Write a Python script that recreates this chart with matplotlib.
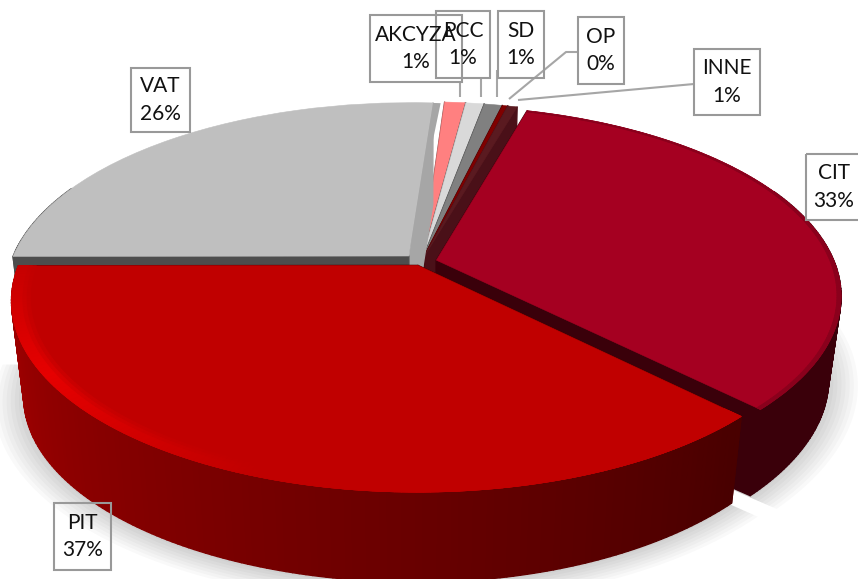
import numpy as np
import matplotlib
matplotlib.use('Agg')
import matplotlib.pyplot as plt
from matplotlib.collections import PolyCollection
from matplotlib.colors import to_rgb
from matplotlib.patches import Rectangle, Wedge
from matplotlib.transforms import Transform

names = ['CIT', 'PIT', 'VAT', 'AKCYZA', 'PCC', 'SD', 'OP', 'INNE']
values = [33.12, 37.4, 26.1, 0.98, 0.85, 0.85, 0.25, 0.45]
percent_labels = ['33%', '37%', '26%', '1%', '1%', '1%', '0%', '1%']
explode = [0.04, 0.02, 0.045, 0.04, 0.04, 0.04, 0.04, 0.04]
top_colors = ['#A50021', '#C00000', '#BFBFBF', '#FF8080', '#D9D9D9', '#808080', '#7F0000', '#5A1A20']
wall_colors = ['#3A000A', '#480000', '#4D4D4D', '#804040', '#6D6D6D', '#404040', '#400000', '#4A1018']
draw_order = [3, 4, 5, 6, 7, 2, 0, 1]

# label boxes in picture pixels: left, top, right, bottom
label_boxes = [(806, 154, 870, 220), (54, 503, 111, 570), (131, 68, 190, 132),
               (370, 15, 462, 82), (436, 11, 490, 78), (498, 11, 544, 78),
               (578, 17, 624, 84), (694, 49, 760, 115)]
leader_lines = [([460, 460], [82, 97]), ([481, 481], [78, 97]), ([497, 497], [70, 97]),
                ([578, 566, 509], [52, 52, 99]), ([694, 518], [84, 100])]

CX, CY = 421, 262
RX, RY = 398, 183.6
PERSP = 0.184
DEPTH = 97


def project(x, y, z=0.0):
    s = (1 - 0.03 * z) / (1 + PERSP * y)
    drop = DEPTH * z * (1 - 0.12 * np.maximum(x, 0) ** 2)
    return CX + x * RX * s, CY + drop - y * RY * s


class Persp(Transform):
    input_dims = 2
    output_dims = 2
    is_separable = False
    has_inverse = False

    def __init__(self, z=0.0):
        super().__init__()
        self.z = z

    def transform_non_affine(self, values):
        px, py = project(values[:, 0], values[:, 1], self.z)
        return np.column_stack([px, py])


def mix(a, b, w):
    a, b = np.array(to_rgb(a)), np.array(to_rgb(b))
    return tuple(a + (b - a) * w)


plt.rcParams['font.family'] = ['Lato', 'DejaVu Sans']
fig = plt.figure(figsize=(8.58, 5.79), dpi=100)
ax = fig.add_axes([0, 0, 1, 1])

wedges, _ = ax.pie(values, explode=explode, colors=top_colors, startangle=74,
                   counterclock=False, radius=1)
ax.set_aspect('auto')
ax.set_xlim(0, 858)
ax.set_ylim(579, 0)
ax.axis('off')

top = Persp(0.0) + ax.transData
bottom = Persp(1.0) + ax.transData

# soft shadow under the bottom plane
for i in [0, 1]:
    w = wedges[i]
    for k in np.linspace(1.07, 1.0, 8):
        sh = Wedge((w.center[0], w.center[1] - 0.01), k, w.theta1, w.theta2, color='black',
                   alpha=0.025, lw=0, transform=bottom, zorder=0)
        ax.add_patch(sh)

for rank, i in enumerate(draw_order):
    w = wedges[i]
    zo = 2 + rank * 2
    cx, cy = w.center
    polys, cols = [], []

    # cut faces, the right face of VAT (theta1) catches the light
    for ang in [w.theta1, w.theta2]:
        ox = cx + np.cos(np.radians(ang))
        oy = cy + np.sin(np.radians(ang))
        polys.append([project(cx, cy, 0), project(ox, oy, 0), project(ox, oy, 1), project(cx, cy, 1)])
        if names[i] == 'VAT' and ang == w.theta1:
            cols.append('#A6A6A6')
        else:
            cols.append(wall_colors[i])

    # outer wall, split so the shade can change along the arc, back part stays hidden
    th = np.linspace(w.theta1, w.theta2, 160)
    for t0, t1 in zip(th[:-1], th[1:]):
        if np.sin(np.radians(t0)) > 0.4:
            continue
        x0, y0 = cx + np.cos(np.radians(t0)), cy + np.sin(np.radians(t0))
        x1, y1 = cx + np.cos(np.radians(t1)), cy + np.sin(np.radians(t1))
        polys.append([project(x0, y0, 0), project(x1, y1, 0), project(x1, y1, 1), project(x0, y0, 1)])
        if names[i] == 'PIT':
            f = (t0 - w.theta1) / (w.theta2 - w.theta1)
            cols.append(mix('#A80000', '#480000', f))
        else:
            cols.append(wall_colors[i])
    ax.add_collection(PolyCollection(polys, facecolors=cols, edgecolors=cols, linewidths=1.0, zorder=zo))

    w.set_transform(top)
    w.set_zorder(zo + 1)
    w.set_edgecolor(top_colors[i])
    w.set_linewidth(0.4)

    # bright rim on the PIT top, dark soft edge on the CIT top
    if names[i] == 'PIT':
        bands = [(0.955, 0.3), (0.965, 0.65), (0.975, 1.0)]
    elif names[i] == 'CIT':
        bands = [(0.99, 1.0)]
    else:
        bands = []
    for inner, weight in bands:
        rim, rim_cols = [], []
        for t0, t1 in zip(th[:-1], th[1:]):
            c0, s0 = np.cos(np.radians(t0)), np.sin(np.radians(t0))
            c1, s1 = np.cos(np.radians(t1)), np.sin(np.radians(t1))
            if names[i] == 'PIT':
                amt = max(0, 1 - abs(t0 - w.theta1 - 32) / 38)
                col = mix('#C00000', '#E60000', amt * weight)
            else:
                col = '#8A001C'
            rim.append([project(cx + inner * c0, cy + inner * s0), project(cx + c0, cy + s0),
                        project(cx + c1, cy + s1), project(cx + inner * c1, cy + inner * s1)])
            rim_cols.append(col)
        ax.add_collection(PolyCollection(rim, facecolors=rim_cols, edgecolors=rim_cols,
                                         linewidths=0.5, zorder=zo + 1.5))

# light side strip along the right edge of VAT
vat = wedges[2]
ax.add_patch(Wedge(vat.center, 1, vat.theta1 - 1.3, vat.theta1,
                   color='#A6A6A6', lw=0, transform=top, zorder=draw_order.index(2) * 2 + 3.5))

for xs, ys in leader_lines:
    ax.plot(xs, ys, color='#A6A6A6', lw=1.5, zorder=30, solid_capstyle='butt')

for name, pct, (x0, y0, x1, y1) in zip(names, percent_labels, label_boxes):
    ax.add_patch(Rectangle((x0, y0), x1 - x0, y1 - y0, fill=False, edgecolor='#999999', lw=1.5,
                           zorder=31))
    mid = (min(x1, 858) + x0) / 2 + (2 if name == 'CIT' else 0)
    ax.text(mid, (y0 + y1) / 2, name + '\n' + pct, ha='center', va='center', fontsize=15,
            linespacing=1.45, color='#111111', zorder=32)

fig.savefig('out.png', dpi=100)
